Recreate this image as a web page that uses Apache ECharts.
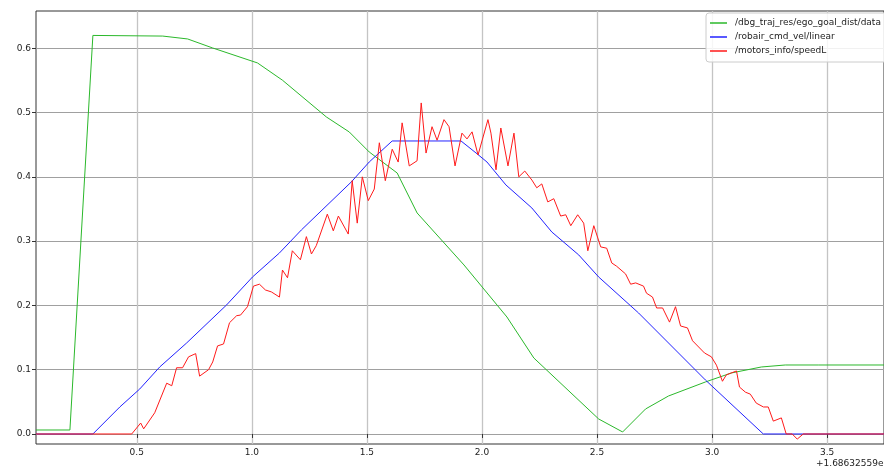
<!DOCTYPE html>
<html>
<head>
<meta charset="utf-8">
<script src="https://cdn.jsdelivr.net/npm/echarts@6/dist/echarts.min.js"></script>
<style>
html,body{margin:0;padding:0;background:#fff;}
#chart{width:884px;height:471px;}
</style>
</head>
<body>
<div id="chart"></div>
<script>
// Series names
const seriesNames = ['/dbg_traj_res/ego_goal_dist/data', '/robair_cmd_vel/linear', '/motors_info/speedL'];

// Time (offset from 1.68632559e9 s) and values
const goalDistX = [0.062, 0.2095, 0.3093, 0.6127, 0.7211, 0.8295, 1.0246, 1.1329, 1.3237, 1.4234, 1.5101, 1.6315, 1.7182, 1.9219, 2.1084, 2.2254, 2.5072, 2.6112, 2.7110, 2.8107, 2.9711, 3.0838, 3.2139, 3.3179, 3.4610, 3.747];
const goalDistY = [0.0062, 0.0062, 0.620, 0.619, 0.6145, 0.6005, 0.5772, 0.5504, 0.4932, 0.4698, 0.4387, 0.406, 0.3438, 0.2629, 0.182, 0.1182, 0.0233, 0.0031, 0.0389, 0.0591, 0.0809, 0.0949, 0.1042, 0.1073, 0.1073, 0.1073];

const cmdVelX = [0.062, 0.3093, 0.4263, 0.513, 0.5997, 0.7168, 0.8902, 1.0029, 1.12, 1.2153, 1.4321, 1.5101, 1.6098, 1.909, 1.974, 2.0217, 2.104, 2.2168, 2.3035, 2.4205, 2.5072, 2.6806, 2.971, 3.2225, 3.747];
const cmdVelY = [0, 0, 0.042, 0.07, 0.1042, 0.1416, 0.2007, 0.2442, 0.2816, 0.3174, 0.392, 0.4231, 0.4558, 0.4558, 0.4372, 0.4231, 0.3874, 0.3516, 0.3142, 0.2785, 0.2442, 0.1882, 0.084, 0, 0];

const speedLX = [0.062, 0.478, 0.517, 0.530, 0.578, 0.630, 0.652, 0.673, 0.699, 0.725, 0.756, 0.773, 0.812, 0.830, 0.851, 0.877, 0.903, 0.934, 0.951, 0.981, 1.007, 1.033, 1.059, 1.085, 1.120, 1.133, 1.155, 1.176, 1.211, 1.237, 1.259, 1.280, 1.328, 1.354, 1.376, 1.419, 1.436, 1.458, 1.480, 1.506, 1.532, 1.554, 1.580, 1.610, 1.636, 1.653, 1.684, 1.718, 1.736, 1.757, 1.783, 1.805, 1.835, 1.857, 1.883, 1.913, 1.935, 1.957, 1.983, 2.026, 2.039, 2.061, 2.082, 2.113, 2.139, 2.160, 2.186, 2.217, 2.238, 2.260, 2.286, 2.312, 2.342, 2.364, 2.386, 2.416, 2.442, 2.460, 2.486, 2.516, 2.542, 2.564, 2.585, 2.624, 2.646, 2.668, 2.702, 2.715, 2.741, 2.759, 2.785, 2.815, 2.841, 2.863, 2.893, 2.915, 2.967, 2.997, 3.019, 3.045, 3.062, 3.106, 3.119, 3.145, 3.166, 3.192, 3.223, 3.244, 3.266, 3.301, 3.322, 3.348, 3.370, 3.396, 3.747];
const speedLY = [0, 0, 0.017, 0.008, 0.033, 0.079, 0.075, 0.103, 0.103, 0.120, 0.125, 0.090, 0.100, 0.112, 0.137, 0.140, 0.173, 0.184, 0.185, 0.198, 0.230, 0.233, 0.224, 0.221, 0.213, 0.255, 0.243, 0.285, 0.271, 0.307, 0.280, 0.293, 0.342, 0.316, 0.339, 0.311, 0.394, 0.328, 0.400, 0.363, 0.381, 0.453, 0.394, 0.443, 0.423, 0.484, 0.417, 0.425, 0.515, 0.437, 0.478, 0.457, 0.489, 0.478, 0.417, 0.468, 0.459, 0.470, 0.434, 0.489, 0.468, 0.411, 0.476, 0.417, 0.468, 0.400, 0.409, 0.395, 0.383, 0.389, 0.361, 0.366, 0.339, 0.341, 0.324, 0.341, 0.328, 0.285, 0.324, 0.291, 0.289, 0.266, 0.261, 0.249, 0.233, 0.235, 0.230, 0.219, 0.213, 0.196, 0.196, 0.174, 0.198, 0.168, 0.165, 0.145, 0.126, 0.120, 0.107, 0.082, 0.092, 0.098, 0.073, 0.065, 0.062, 0.048, 0.042, 0.042, 0.020, 0.025, 0, 0, -0.008, 0, 0];

// Tick values
const xTicks = [0.5, 1.0, 1.5, 2.0, 2.5, 3.0, 3.5];
const yTicks = [0, 0.1, 0.2, 0.3, 0.4, 0.5, 0.6];
const offsetText = '+1.68632559e9';

const zip = (xs, ys) => xs.map((x, i) => [x, ys[i]]);
const FONT = 'DejaVu Sans';

const chart = echarts.init(document.getElementById('chart'), null, {renderer: 'canvas'});
chart.setOption({
  animation: false,
  backgroundColor: '#fff',
  grid: {
    left: 36, right: -2, top: 11, bottom: 27,
    show: true, borderColor: '#333', borderWidth: 1, backgroundColor: 'transparent'
  },
  xAxis: {
    type: 'value',
    min: 0.0621, max: 3.747,
    axisLine: {show: false},
    axisTick: {show: true, customValues: xTicks, length: 4, lineStyle: {color: '#333', width: 1}},
    axisLabel: {customValues: xTicks, formatter: v => v.toFixed(1), fontSize: 9, fontFamily: FONT, color: '#222', margin: 4},
    splitLine: {show: true, lineStyle: {color: '#c4c4c4', width: 1.3}}
  },
  yAxis: {
    type: 'value',
    min: -0.0156, max: 0.658,
    axisLine: {show: false},
    axisTick: {show: true, customValues: yTicks, length: 4, lineStyle: {color: '#333', width: 1}},
    axisLabel: {customValues: yTicks, formatter: v => v.toFixed(1), fontSize: 9, fontFamily: FONT, color: '#222', margin: 5},
    splitLine: {show: true, lineStyle: {color: '#a0a0a0', width: 1}}
  },
  legend: {
    orient: 'vertical',
    left: 706, top: 13,
    padding: [3, 6, 4, 4],
    itemGap: 0,
    itemWidth: 17, itemHeight: 1.5,
    icon: 'rect',
    backgroundColor: 'rgba(255,255,255,0.85)',
    borderColor: '#cccccc', borderWidth: 1, borderRadius: 3,
    textStyle: {fontSize: 9, fontFamily: FONT, color: '#222', lineHeight: 14, padding: [0, 0, 0, 3]},
    data: seriesNames
  },
  graphic: [{
    type: 'text', left: 816, top: 459,
    style: {text: offsetText, font: '9px "DejaVu Sans"', fill: '#222'}
  }],
  series: [
    {name: seriesNames[0], type: 'line', data: zip(goalDistX, goalDistY), showSymbol: false, color: '#2bb82b', lineStyle: {width: 1, color: '#2bb82b'}},
    {name: seriesNames[1], type: 'line', data: zip(cmdVelX, cmdVelY), showSymbol: false, color: '#2222ff', lineStyle: {width: 1, color: '#2222ff'}},
    {name: seriesNames[2], type: 'line', data: zip(speedLX, speedLY), showSymbol: false, color: '#ff1a1a', lineStyle: {width: 1, color: '#ff1a1a'}}
  ]
});
</script>
</body>
</html>
